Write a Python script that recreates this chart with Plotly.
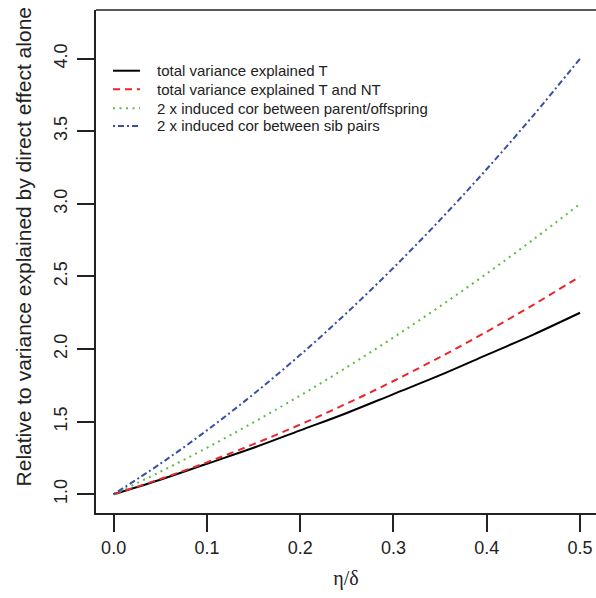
import plotly.graph_objects as go

ratio = [0.0, 0.05, 0.10, 0.15, 0.20, 0.25, 0.30, 0.35, 0.40, 0.45, 0.50]
total_T = [1.00, 1.10, 1.21, 1.32, 1.44, 1.56, 1.69, 1.82, 1.96, 2.10, 2.25]
total_T_NT = [1.00, 1.105, 1.22, 1.345, 1.48, 1.625, 1.78, 1.945, 2.12, 2.305, 2.50]
parent_offspring = [1.00, 1.155, 1.32, 1.495, 1.68, 1.875, 2.08, 2.295, 2.52, 2.755, 3.00]
sib_pairs = [1.00, 1.21, 1.44, 1.69, 1.96, 2.25, 2.56, 2.89, 3.24, 3.61, 4.00]

names = ["total variance explained T",
         "total variance explained T and NT",
         "2 x induced cor between parent/offspring",
         "2 x induced cor between sib pairs"]
x_ticks = [0.0, 0.1, 0.2, 0.3, 0.4, 0.5]
y_ticks = [1.0, 1.5, 2.0, 2.5, 3.0, 3.5, 4.0]
x_title = "η/δ"
y_title = "Relative to variance explained by direct effect alone"

series = [total_T, total_T_NT, parent_offspring, sib_pairs]
colors = ["#000000", "#e8262b", "#5cbd3c", "#3a4fa3"]
dashes = ["solid", "7px,5px", "2px,4.5px", "2px,3px,6px,3px"]

fig = go.Figure()
for n, s, c, d in zip(names, series, colors, dashes):
    fig.add_trace(go.Scatter(x=ratio, y=s, mode="lines", name=n, showlegend=False,
                             line=dict(color=c, width=2, dash=d, shape="spline")))

# legend drawn as key lines + labels (paper coordinates of the plot area)
legend_rows = [0.8793, 0.8423, 0.8046, 0.7694]
for n, c, d, yy in zip(names, colors, dashes, legend_rows):
    fig.add_shape(type="line", xref="paper", yref="paper", x0=0.034, x1=0.088,
                  y0=yy, y1=yy, line=dict(color=c, width=2, dash=d))
    fig.add_annotation(xref="paper", yref="paper", x=0.118, y=yy, text=n,
                       showarrow=False, xanchor="left", yanchor="middle",
                       font=dict(size=15, color="#222222"))

# top border of the box (the right side of the box lies beyond the picture)
fig.add_shape(type="line", xref="paper", yref="paper", x0=0, x1=1.0, y0=1, y1=1,
              line=dict(color="#222222", width=1.5))
fig.add_shape(type="line", xref="paper", yref="paper", x0=1.0, x1=1.0, y0=0.003, y1=0.997,
              line=dict(color="white", width=4), layer="above")

# y axis title
fig.add_annotation(xref="paper", yref="paper", x=-0.146, y=0.528, text=y_title,
                   textangle=-90, showarrow=False, xanchor="center", yanchor="middle",
                   font=dict(size=21, color="#222222"))

font = "Liberation Sans, Arial, Helvetica, sans-serif"
fig.update_layout(
    width=596, height=598,
    margin=dict(l=96, r=0, t=10, b=85, autoexpand=False),
    paper_bgcolor="white", plot_bgcolor="white",
    font=dict(family=font, size=18, color="#222222"),
    xaxis=dict(range=[-0.0189, 0.5171], tickvals=x_ticks,
               ticktext=[f"{v:.1f}" for v in x_ticks],
               showgrid=False, zeroline=False, showline=True, mirror=False,
               linecolor="#222222", linewidth=1.5,
               ticks="outside", ticklen=17, tickwidth=1.5, tickcolor="#222222",
               ticklabelstandoff=1,
               title=dict(text=x_title, font=dict(family="Liberation Serif, serif", size=20),
                          standoff=14)),
    yaxis=dict(range=[0.871, 4.335], tickvals=y_ticks,
               ticktext=[f"{v:.1f}" for v in y_ticks], tickangle=-90,
               showgrid=False, zeroline=False, showline=True, mirror=False,
               linecolor="#222222", linewidth=1.5,
               ticks="outside", ticklen=17, tickwidth=1.5, tickcolor="#222222",
               ticklabelstandoff=3),
)
fig.write_html("out.html", config={"displayModeBar": False},
               post_script="document.body.style.margin='0';document.body.style.overflow='hidden';")
